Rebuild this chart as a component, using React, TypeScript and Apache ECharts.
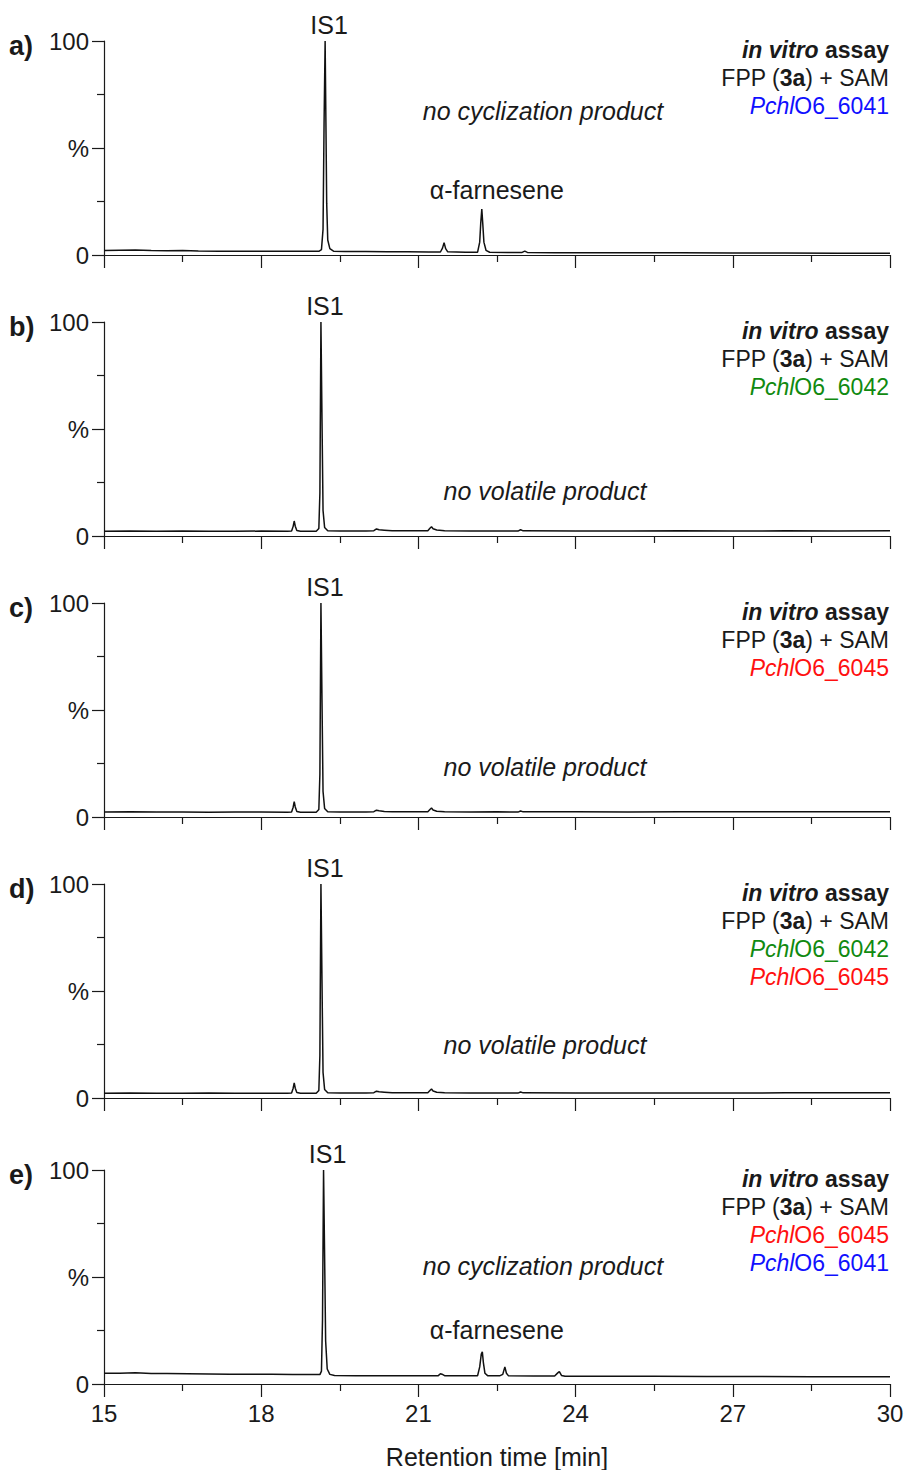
import React, { useEffect, useRef } from "react";
import * as echarts from "echarts";

// Retention time axis (min) and relative intensity axis (%)
const X_MIN = 15;
const X_MAX = 30;
const X_STEP = 3;
const Y_MIN = 0;
const Y_MAX = 100;
const Y_STEP = 50;
const yTickLabels: Record<number, string> = { 0: "0", 50: "%", 100: "100" };

const panelLetters = ["a)", "b)", "c)", "d)", "e)"];

// Chromatogram traces: [retention time (min), relative intensity (%)]
const traceA: [number, number][] = [
  [15.0, 2.1], [15.3, 2.2], [15.6, 2.3], [15.9, 2.1], [16.2, 2.0], [16.5, 2.1], [16.8, 1.9],
  [17.2, 1.8], [17.6, 1.8], [18.0, 1.7], [18.4, 1.7], [18.8, 1.7], [19.1, 1.7],
  [19.15, 2.5], [19.18, 12], [19.2, 62], [19.22, 100], [19.235, 62], [19.25, 24],
  [19.27, 7], [19.31, 3], [19.38, 1.8], [19.6, 1.6], [20.0, 1.6], [20.4, 1.5], [20.8, 1.5],
  [21.2, 1.4], [21.42, 1.4], [21.46, 3.2], [21.49, 5.8], [21.52, 3.0], [21.56, 1.5],
  [21.9, 1.3], [22.13, 1.3], [22.17, 6], [22.19, 15], [22.21, 21.5], [22.23, 14],
  [22.25, 6], [22.29, 2.2], [22.36, 1.3], [22.7, 1.2], [22.98, 1.2], [23.03, 1.8],
  [23.08, 1.2], [23.6, 1.1], [24.3, 1.1], [25.0, 1.0], [26.0, 1.0], [27.0, 0.9],
  [28.0, 0.9], [29.0, 0.8], [30.0, 0.8],
];

const traceB: [number, number][] = [
  [15.0, 2.2], [15.5, 2.3], [16.0, 2.2], [16.5, 2.3], [17.0, 2.2], [17.5, 2.2], [18.0, 2.3],
  [18.5, 2.2], [18.58, 2.3], [18.61, 4.5], [18.63, 7.0], [18.65, 4.6], [18.68, 2.6],
  [18.75, 2.2], [19.05, 2.2], [19.1, 3.5], [19.12, 20], [19.14, 100], [19.16, 55],
  [19.18, 12], [19.21, 4], [19.27, 2.5], [19.5, 2.3], [20.0, 2.3], [20.15, 2.5],
  [20.2, 3.3], [20.25, 2.9], [20.35, 2.7], [20.5, 2.4], [21.0, 2.4], [21.18, 2.5],
  [21.22, 3.6], [21.25, 4.3], [21.28, 3.4], [21.35, 2.8], [21.5, 2.4], [22.0, 2.3],
  [22.5, 2.3], [22.9, 2.3], [22.95, 2.9], [23.0, 2.4], [24.0, 2.3], [25.0, 2.3],
  [26.0, 2.4], [27.0, 2.3], [28.0, 2.4], [29.0, 2.3], [30.0, 2.4],
];

const traceC: [number, number][] = [
  [15.0, 2.3], [15.5, 2.4], [16.0, 2.3], [16.5, 2.3], [17.0, 2.2], [17.5, 2.3], [18.0, 2.3],
  [18.5, 2.2], [18.58, 2.3], [18.61, 4.6], [18.63, 7.2], [18.65, 4.7], [18.68, 2.6],
  [18.75, 2.2], [19.05, 2.2], [19.1, 3.5], [19.12, 20], [19.14, 100], [19.16, 55],
  [19.18, 12], [19.21, 4], [19.27, 2.5], [19.5, 2.3], [20.0, 2.3], [20.15, 2.5],
  [20.2, 3.2], [20.25, 2.9], [20.35, 2.6], [20.5, 2.4], [21.0, 2.4], [21.18, 2.5],
  [21.22, 3.5], [21.25, 4.2], [21.28, 3.3], [21.35, 2.7], [21.5, 2.4], [22.0, 2.3],
  [22.5, 2.4], [22.9, 2.3], [22.95, 2.8], [23.0, 2.4], [24.0, 2.4], [25.0, 2.3],
  [26.0, 2.4], [27.0, 2.4], [28.0, 2.4], [29.0, 2.4], [30.0, 2.5],
];

const traceD: [number, number][] = [
  [15.0, 2.2], [15.5, 2.3], [16.0, 2.2], [16.5, 2.2], [17.0, 2.3], [17.5, 2.2], [18.0, 2.2],
  [18.5, 2.2], [18.58, 2.3], [18.61, 4.6], [18.63, 7.0], [18.65, 4.6], [18.68, 2.6],
  [18.75, 2.2], [19.05, 2.2], [19.1, 3.5], [19.12, 20], [19.14, 100], [19.16, 55],
  [19.18, 12], [19.21, 4], [19.27, 2.5], [19.5, 2.3], [20.0, 2.3], [20.15, 2.5],
  [20.2, 3.2], [20.25, 2.9], [20.35, 2.7], [20.5, 2.4], [21.0, 2.4], [21.18, 2.5],
  [21.22, 3.5], [21.25, 4.2], [21.28, 3.3], [21.35, 2.7], [21.5, 2.4], [22.0, 2.3],
  [22.5, 2.3], [22.9, 2.3], [22.95, 2.8], [23.0, 2.4], [24.0, 2.3], [25.0, 2.3],
  [26.0, 2.3], [27.0, 2.3], [28.0, 2.4], [29.0, 2.4], [30.0, 2.4],
];

const traceE: [number, number][] = [
  [15.0, 5.0], [15.3, 5.0], [15.6, 5.2], [15.9, 4.9], [16.2, 4.9], [16.6, 4.8], [17.0, 4.7],
  [17.4, 4.6], [17.8, 4.5], [18.2, 4.5], [18.6, 4.4], [19.0, 4.4], [19.12, 4.4],
  [19.15, 6], [19.17, 30], [19.19, 100], [19.21, 60], [19.23, 20], [19.26, 7],
  [19.31, 4.5], [19.4, 4.0], [19.8, 3.9], [20.3, 3.9], [20.8, 3.9], [21.2, 3.9],
  [21.38, 3.9], [21.42, 4.8], [21.45, 4.6], [21.5, 3.9], [21.9, 3.8], [22.13, 3.9],
  [22.17, 8], [22.2, 14], [22.22, 15], [22.24, 10], [22.27, 5], [22.32, 3.9],
  [22.55, 3.8], [22.61, 4.5], [22.65, 8], [22.68, 5], [22.72, 3.8], [23.2, 3.7],
  [23.6, 3.7], [23.66, 5.2], [23.69, 5.8], [23.73, 4.0], [23.8, 3.6], [24.5, 3.6],
  [25.5, 3.6], [26.5, 3.5], [27.5, 3.5], [28.5, 3.4], [29.5, 3.4], [30.0, 3.4],
];

const traces = [traceA, traceB, traceC, traceD, traceE];

// Retention time of the internal standard in each run
const is1Times = [19.22, 19.14, 19.14, 19.14, 19.19];
// Retention time of alpha-farnesene (runs a and e)
const farneseneTime = 22.21;
const productNotes = [
  "no cyclization product",
  "no volatile product",
  "no volatile product",
  "no volatile product",
  "no cyclization product",
];

const ENZ_6041 = { name: "O6_6041", color: "#1010ff" };
const ENZ_6042 = { name: "O6_6042", color: "#108a10" };
const ENZ_6045 = { name: "O6_6045", color: "#ff1010" };
const enzymes = [[ENZ_6041], [ENZ_6042], [ENZ_6045], [ENZ_6042, ENZ_6045], [ENZ_6045, ENZ_6041]];

const FONT = "'Liberation Sans', Arial, Helvetica, sans-serif";
const INK = "#1a1a1a";

// Plot area layout
const GRID_LEFT = 104;
const GRID_RIGHT = 17;
const GRID_TOPS = [41, 322, 603, 884, 1170];
const GRID_H = 214;
const NOTE_DY = [70, 169, 164, 161, 96];
const NOTE_CENTER_PX = [543, 545, 545, 545, 543];

export default function App() {
  const ref = useRef<HTMLDivElement>(null);

  useEffect(() => {
    if (!ref.current) return;
    const chart = echarts.init(ref.current, undefined, { renderer: "svg" });

    const grid = GRID_TOPS.map((top) => ({
      left: GRID_LEFT,
      right: GRID_RIGHT,
      top,
      height: GRID_H,
      containLabel: false,
    }));

    const axisLineStyle = { color: INK, width: 1.2 };
    const last = traces.length - 1;

    const xAxis = traces.map((_, i) => ({
      type: "value",
      gridIndex: i,
      min: X_MIN,
      max: X_MAX,
      interval: X_STEP,
      axisLine: { show: true, onZero: false, lineStyle: axisLineStyle },
      axisTick: { show: true, length: 13, lineStyle: axisLineStyle },
      minorTick: { show: true, splitNumber: 2, length: 7, lineStyle: axisLineStyle },
      splitLine: { show: false },
      minorSplitLine: { show: false },
      axisLabel: {
        show: i === last,
        fontSize: 24,
        fontFamily: FONT,
        color: INK,
        margin: 17,
      },
      name: i === last ? "Retention time [min]" : "",
      nameLocation: "middle",
      nameGap: 60,
      nameTextStyle: { fontSize: 25, fontFamily: FONT, color: INK },
    }));

    const yAxis = traces.map((_, i) => ({
      type: "value",
      gridIndex: i,
      min: Y_MIN,
      max: Y_MAX,
      interval: Y_STEP,
      axisLine: { show: true, onZero: false, lineStyle: axisLineStyle },
      axisTick: { show: true, length: 12, lineStyle: axisLineStyle },
      minorTick: { show: true, splitNumber: 2, length: 7, lineStyle: axisLineStyle },
      splitLine: { show: false },
      minorSplitLine: { show: false },
      axisLabel: {
        fontSize: 24,
        fontFamily: FONT,
        color: INK,
        margin: 15,
        formatter: (v: number) => yTickLabels[v] ?? "",
      },
    }));

    const series = traces.map((data, i) => ({
      type: "line",
      xAxisIndex: i,
      yAxisIndex: i,
      data,
      symbol: "none",
      showSymbol: false,
      lineStyle: { color: "#111", width: 1.5 },
      silent: true,
    }));

    chart.setOption({
      animation: false,
      backgroundColor: "#ffffff",
      grid,
      xAxis,
      yAxis,
      series,
    });

    const graphic: any[] = [];
    GRID_TOPS.forEach((top, i) => {
      // panel letter
      graphic.push({
        type: "text",
        x: 9,
        y: top + 5,
        style: {
          text: panelLetters[i],
          font: `bold 27px ${FONT}`,
          fill: INK,
          verticalAlign: "middle",
        },
      });

      // assay description block
      const lines: string[] = ["{bi|in vitro} {b|assay}", "{r|FPP (}{b|3a}{r|) + SAM}"];
      const rich: Record<string, any> = {
        bi: { font: `italic bold 23px ${FONT}`, fill: INK },
        b: { font: `bold 23px ${FONT}`, fill: INK },
        r: { font: `23px ${FONT}`, fill: INK },
      };
      enzymes[i].forEach((enz, k) => {
        rich[`ei${k}`] = { font: `italic 23px ${FONT}`, fill: enz.color };
        rich[`e${k}`] = { font: `23px ${FONT}`, fill: enz.color };
        lines.push(`{ei${k}|Pchl}{e${k}|${enz.name}}`);
      });
      lines.forEach((line, k) => {
        graphic.push({
          type: "text",
          x: 889,
          y: top + 9 + k * 28,
          style: {
            text: line,
            rich,
            align: "right",
            verticalAlign: "middle",
            font: `23px ${FONT}`,
          },
        });
      });

      // internal standard label above its peak
      const [px] = chart.convertToPixel({ gridIndex: i }, [is1Times[i], 100]) as number[];
      graphic.push({
        type: "text",
        x: px + 4,
        y: top - 16,
        style: {
          text: "IS1",
          font: `25px ${FONT}`,
          fill: INK,
          align: "center",
          verticalAlign: "middle",
        },
      });

      // product note
      graphic.push({
        type: "text",
        x: NOTE_CENTER_PX[i],
        y: top + NOTE_DY[i],
        style: {
          text: productNotes[i],
          font: `italic 25px ${FONT}`,
          fill: INK,
          align: "center",
          verticalAlign: "middle",
        },
      });

      if (i === 0 || i === last) {
        const [fx] = chart.convertToPixel({ gridIndex: i }, [farneseneTime, 0]) as number[];
        graphic.push({
          type: "text",
          x: fx + 15,
          y: top + 149 + (i === last ? 11 : 0),
          style: {
            text: "\u03b1-farnesene",
            font: `25px ${FONT}`,
            fill: INK,
            align: "center",
            verticalAlign: "middle",
          },
        });
      }
    });

    chart.setOption({ graphic });

    return () => chart.dispose();
  }, []);

  return (
    <div
      ref={ref}
      style={{ position: "absolute", left: 0, top: 0, width: 907, height: 1470, background: "#fff" }}
    />
  );
}
